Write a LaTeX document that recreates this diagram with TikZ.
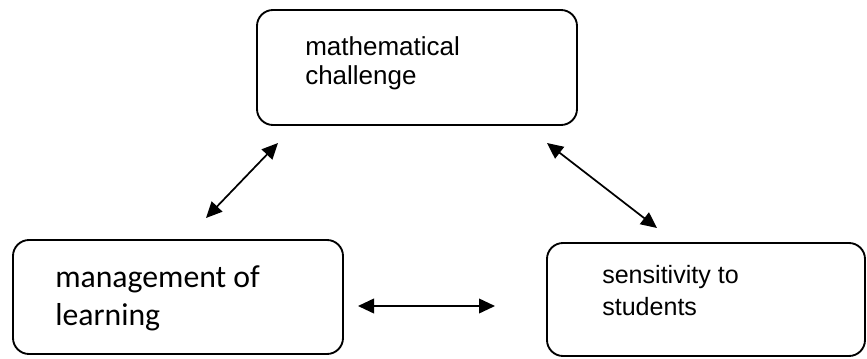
\documentclass[tikz,border=0pt]{standalone}
\usepackage{fontspec}
\setmainfont{Liberation Sans}
\newfontfamily\calibrifont{Carlito}
\usepackage{tikz}
\usetikzlibrary{arrows.meta,positioning,calc}

\begin{document}
\begin{tikzpicture}[x=0.75pt, y=-0.75pt,
  box/.style={draw, line width=1.4pt, rounded corners=12pt, inner sep=0pt},
  boxtext/.style={inner sep=0pt, align=left, anchor=base west},
  link/.style={line width=1.3pt, {Triangle[length=12pt,width=11pt]}-{Triangle[length=12pt,width=11pt]}}]
\useasboundingbox (0,0) rectangle (867,358);
% the three boxes
\node[box, minimum width=240pt, minimum height=86.25pt] (challenge) at (417,67.5) {};
\node[box, minimum width=247.5pt, minimum height=85.5pt] (management) at (178,297) {};
\node[box, minimum width=238.5pt, minimum height=84.75pt] (sensitivity) at (706,299.5) {};
% texts (base anchor sits on the last line)
\node[boxtext, font=\fontsize{19.5}{21.75}\selectfont] (challengetext) at (305,84) {mathematical\\challenge};
\node[boxtext, font=\calibrifont\fontsize{23.8}{28.5}\selectfont] (managementtext) at (55,325) {management of\\learning};
\node[boxtext, font=\fontsize{18.8}{24}\selectfont] (sensitivitytext) at (602,315) {sensitivity to\\students};
% arrow ends
\coordinate (lm1) at (206,218);
\coordinate (lm2) at (278,143);
\coordinate (ms1) at (547,143);
\coordinate (ms2) at (657,228);
\coordinate (ls1) at (358,306);
\coordinate (ls2) at (495,306);
\draw[link] (lm1) -- (lm2);
\draw[link] (ms1) -- (ms2);
\draw[link] (ls1) -- (ls2);
\end{tikzpicture}
\end{document}
